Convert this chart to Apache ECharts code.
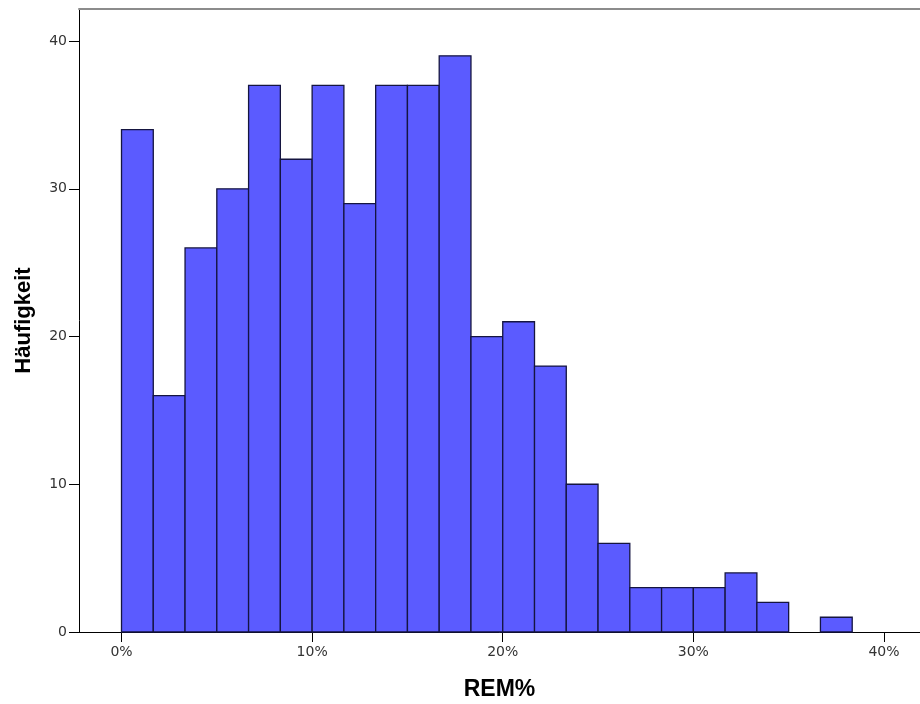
<!DOCTYPE html>
<html>
<head>
<meta charset="utf-8">
<script src="https://cdn.jsdelivr.net/npm/echarts@6/dist/echarts.min.js"></script>
<style>html,body{margin:0;padding:0;background:#fff}#c{width:920px;height:704px}</style>
</head>
<body>
<div id="c"></div>
<script>
// Histogram of REM% (bins of 5/3 % starting at 0%)
var binWidth = 5 / 3;
var counts = [34, 16, 26, 30, 37, 32, 37, 29, 37, 37, 39, 20, 21, 18, 10, 6, 3, 3, 3, 4, 2, 0, 1];
var xTicks = [0, 10, 20, 30, 40];
var xTickLabels = ['0%', '10%', '20%', '30%', '40%'];
var yTicks = [0, 10, 20, 30, 40];

var data = counts.map(function (c, i) {
  return [i * binWidth, (i + 1) * binWidth, c];
}).filter(function (d) { return d[2] > 0; });

var chart = echarts.init(document.getElementById('c'));
var labelFont = 'DejaVu Sans';
chart.setOption({
  animation: false,
  backgroundColor: '#ffffff',
  grid: { left: 79, right: 0, top: 9, bottom: 72, outerBoundsMode: 'none', containLabel: false },
  xAxis: [{
    type: 'value',
    min: -2.23, max: 41.89,
    name: 'REM%', nameLocation: 'middle', nameGap: 46,
    nameTextStyle: { fontFamily: 'Liberation Sans', fontWeight: 'bold', fontSize: 23, color: '#000' },
    axisLine: { show: true, onZero: false, lineStyle: { color: '#000', width: 1 } },
    axisTick: { show: true, length: 10, customValues: xTicks, lineStyle: { color: '#000' } },
    axisLabel: {
      customValues: xTicks, margin: 13, fontFamily: labelFont, fontSize: 14, color: '#333',
      formatter: function (v) { return xTickLabels[xTicks.indexOf(Math.round(v))] || ''; }
    },
    splitLine: { show: false }
  }, {
    type: 'value', position: 'top', min: -2.23, max: 41.89,
    axisLine: { show: true, onZero: false, lineStyle: { color: '#8c8c8c', width: 2 } },
    axisTick: { show: false }, axisLabel: { show: false }, splitLine: { show: false }
  }],
  yAxis: {
    type: 'value', min: 0, max: 42.17, interval: 10,
    name: 'Häufigkeit', nameLocation: 'middle', nameGap: 44,
    nameTextStyle: { fontFamily: 'Liberation Sans', fontWeight: 'bold', fontSize: 22, color: '#000' },
    axisLine: { show: true, onZero: false, lineStyle: { color: '#000', width: 1 } },
    axisTick: { show: true, length: 10, customValues: yTicks, lineStyle: { color: '#000' } },
    axisLabel: { customValues: yTicks, margin: 12, fontFamily: labelFont, fontSize: 14, color: '#333' },
    splitLine: { show: false }
  },
  series: [{
    type: 'custom',
    xAxisIndex: 0,
    data: data,
    encode: { x: [0, 1], y: 2 },
    renderItem: function (params, api) {
      var p1 = api.coord([api.value(0), api.value(2)]);
      var p2 = api.coord([api.value(1), 0]);
      return {
        type: 'rect',
        shape: { x: p1[0], y: p1[1], width: p2[0] - p1[0], height: p2[1] - p1[1] },
        style: { fill: '#5b5bff', stroke: '#151540', lineWidth: 1.3 }
      };
    }
  }]
});
</script>
</body>
</html>
